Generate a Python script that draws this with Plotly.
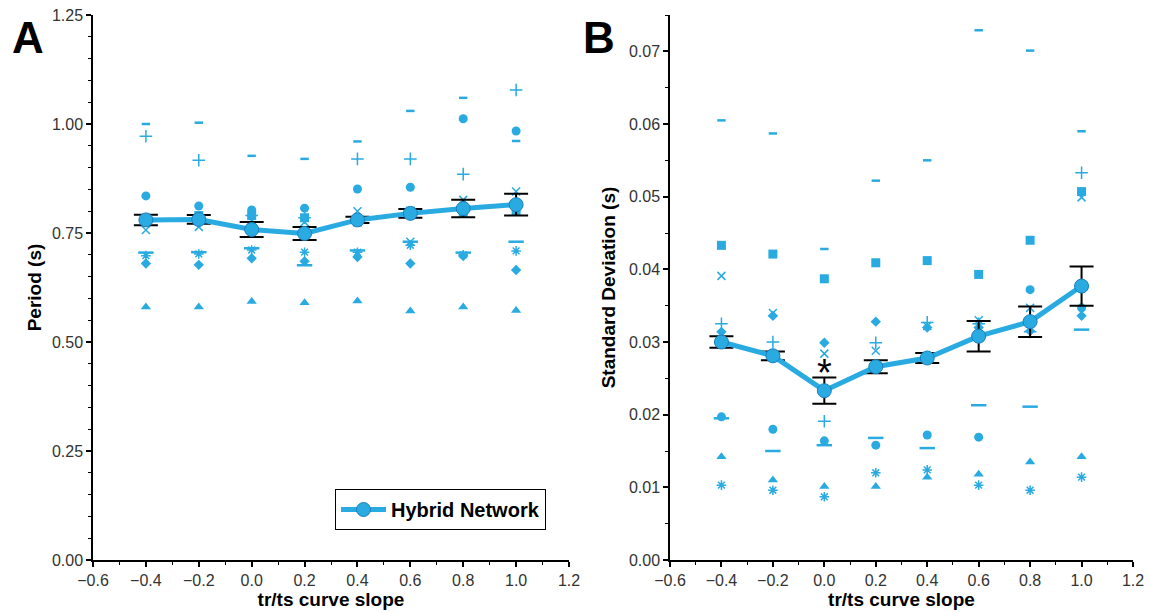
import plotly.graph_objects as go

slopes = [-0.4, -0.2, 0.0, 0.2, 0.4, 0.6, 0.8, 1.0]

# Panel A: Period (s) per individual network
period_circle = [0.835, 0.812, 0.803, 0.807, 0.851, 0.855, 1.012, 0.984]
period_square = [0.780, 0.790, 0.790, 0.785, 0.775, 0.800, 0.795, 0.800]
period_triangle = [0.580, 0.580, 0.593, 0.590, 0.594, 0.571, 0.580, 0.572]
period_diamond = [0.680, 0.677, 0.692, 0.685, 0.695, 0.680, 0.697, 0.665]
period_x = [0.757, 0.764, 0.780, 0.775, 0.800, 0.730, 0.826, 0.845]
period_plus = [0.972, 0.917, 0.790, 0.785, 0.920, 0.920, 0.885, 1.078]
period_shortdash = [1.000, 1.003, 0.927, 0.920, 0.960, 1.030, 1.060, 0.961]
period_longdash = [0.705, 0.706, 0.715, 0.676, 0.710, 0.730, 0.705, 0.730]
period_star = [0.698, 0.702, 0.711, 0.706, 0.706, 0.722, 0.700, 0.709]
period_mean = [0.780, 0.781, 0.758, 0.749, 0.780, 0.795, 0.806, 0.815]
period_err = [0.012, 0.010, 0.017, 0.015, 0.007, 0.010, 0.020, 0.025]

# Panel B: Standard deviation (s) per individual network
sd_circle = [0.0197, 0.0180, 0.0164, 0.0158, 0.0172, 0.0169, 0.0372, 0.0347]
sd_square = [0.0433, 0.0421, 0.0387, 0.0409, 0.0412, 0.0393, 0.0440, 0.0507]
sd_triangle = [0.0142, 0.0110, 0.0101, 0.0101, 0.0114, 0.0118, 0.0135, 0.0142]
sd_diamond = [0.0314, 0.0336, 0.0299, 0.0328, 0.0320, 0.0320, 0.0315, 0.0336]
sd_x = [0.0391, 0.0340, 0.0284, 0.0288, 0.0322, 0.0330, 0.0347, 0.0499]
sd_plus = [0.0325, 0.0300, 0.0191, 0.0299, 0.0327, 0.0325, 0.0314, 0.0533]
sd_shortdash = [0.0605, 0.0587, 0.0428, 0.0522, 0.0550, 0.0729, 0.0701, 0.0590]
sd_longdash = [0.0195, 0.0150, 0.0158, 0.0168, 0.0154, 0.0213, 0.0211, 0.0317]
sd_star = [0.0103, 0.0096, 0.0087, 0.0120, 0.0124, 0.0103, 0.0096, 0.0114]
sd_mean = [0.0300, 0.0281, 0.0233, 0.0266, 0.0278, 0.0308, 0.0328, 0.0377]
sd_err = [0.0008, 0.0006, 0.0018, 0.0009, 0.0007, 0.0021, 0.0021, 0.0027]

BLUE = "#29abe2"
DARK = "#1b7fbf"
FONT = "Liberation Sans, Arial, sans-serif"

fig = go.Figure()

def add_panel(series, mean, err, xa, ya, showlegend):
    for vals, sym, size, lw in series:
        fig.add_trace(go.Scatter(
            x=slopes, y=vals, mode="markers", xaxis=xa, yaxis=ya,
            showlegend=False, hoverinfo="skip",
            marker=dict(symbol=sym, size=size, color=BLUE,
                        line=dict(color=BLUE, width=lw))))
    fig.add_trace(go.Scatter(
        x=slopes, y=mean, mode="lines+markers", xaxis=xa, yaxis=ya,
        name="<b>Hybrid Network</b>", showlegend=showlegend,
        line=dict(color=BLUE, width=5),
        marker=dict(symbol="circle", size=14, color=BLUE,
                    line=dict(color=DARK, width=1)),
        error_y=dict(type="data", array=err, visible=True,
                     color="black", thickness=2, width=12)))

def series_for(c, s, t, d, x, p, sd, ld, st):
    return [
        (c, "circle", 9, 0),
        (s, "square", 9, 0),
        (t, "triangle-up", 9, 0),
        (d, "diamond", 8, 0),
        (x, "x-thin-open", 8, 1.5),
        (p, "cross-thin-open", 9, 1.5),
        (sd, "line-ew-open", 6, 2.5),
        (ld, "line-ew-open", 11, 2.5),
        (st, "asterisk-open", 8, 1.5),
    ]

add_panel(series_for(period_circle, period_square, period_triangle, period_diamond,
                     period_x, period_plus, period_shortdash, period_longdash, period_star),
          period_mean, period_err, "x", "y", True)
add_panel(series_for(sd_circle, sd_square, sd_triangle, sd_diamond,
                     sd_x, sd_plus, sd_shortdash, sd_longdash, sd_star),
          sd_mean, sd_err, "x2", "y2", False)

W, H = 1154, 613
PH = 545
tickfont = dict(family=FONT, size=16, color="#333333")
titlefont = dict(family=FONT, size=19, color="black")

def xaxis(domain):
    return dict(domain=domain, range=[-0.6, 1.2], dtick=0.2, tick0=-0.6,
                tickformat=".1f", showline=True, linecolor="black", linewidth=1.5,
                ticks="outside", ticklen=5, tickwidth=1.5, tickcolor="black",
                minor=dict(dtick=0.1, ticks="outside", ticklen=3, tickcolor="black", tickwidth=1.2),
                showgrid=False, zeroline=False, tickfont=tickfont, automargin=False,
                title=dict(text="<b>tr/ts curve slope</b>", font=titlefont, standoff=2))

def yaxis(anchor, rng, dtick, minor, title, standoff):
    return dict(anchor=anchor, range=rng, dtick=dtick, tickformat=".2f",
                showline=True, linecolor="black", linewidth=1.5,
                ticks="outside", ticklen=5, tickwidth=1.5, tickcolor="black",
                minor=dict(dtick=minor, ticks="outside", ticklen=3, tickcolor="black", tickwidth=1.2),
                showgrid=False, zeroline=False, tickfont=tickfont, automargin=False,
                title=dict(text=title, font=titlefont, standoff=standoff))

fig.update_layout(
    width=W, height=H,
    margin=dict(l=0, r=0, t=15, b=53),
    plot_bgcolor="white", paper_bgcolor="white",
    font=dict(family=FONT),
    xaxis=xaxis([93 / W, 569 / W]),
    xaxis2=xaxis([670 / W, 1133 / W]),
    yaxis=yaxis("x", [0, 1.25], 0.25, 0.05, "<b>Period (s)</b>", 5),
    yaxis2=yaxis("x2", [0, 0.075], 0.01, 0.005, "<b>Standard Deviation (s)</b>", 8),
    legend=dict(x=335 / W, y=(560 - 489) / PH, xanchor="left", yanchor="top",
                bordercolor="black", borderwidth=1, bgcolor="white",
                font=dict(family=FONT, size=20, color="black"),
                itemwidth=45),
    annotations=[
        dict(text="<b>A</b>", x=10 / W, y=(560 - 38) / PH, xref="paper", yref="paper",
             xanchor="left", yanchor="middle", showarrow=False,
             font=dict(family=FONT, size=44, color="black")),
        dict(text="<b>B</b>", x=581 / W, y=(560 - 38) / PH, xref="paper", yref="paper",
             xanchor="left", yanchor="middle", showarrow=False,
             font=dict(family=FONT, size=44, color="black")),
        dict(text="*", x=0.0, y=0.0258, xref="x2", yref="y2",
             showarrow=False, font=dict(family=FONT, size=38, color="black")),
    ],
)

fig.write_html("out.html")
